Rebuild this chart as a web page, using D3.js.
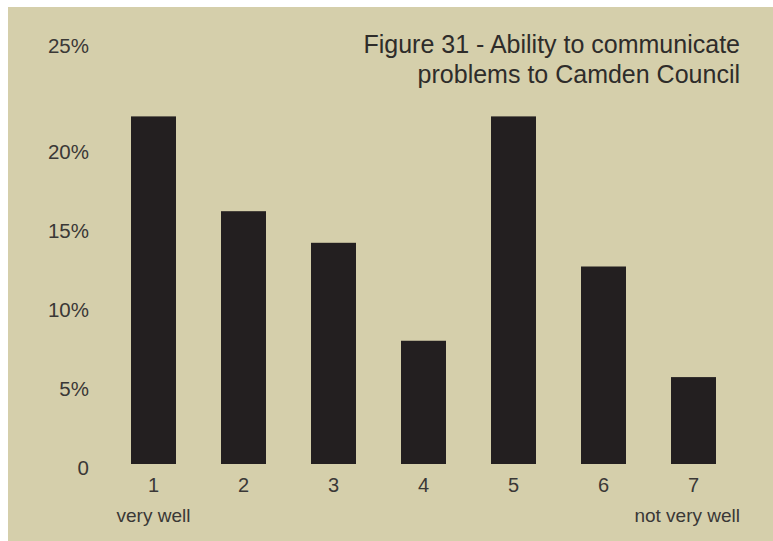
<!DOCTYPE html>
<html>
<head>
<meta charset="utf-8">
<script src="https://cdn.jsdelivr.net/npm/d3@7"></script>
<style>
  body { margin: 0; background: #fff; }
  svg { display: block; font-family: "Liberation Sans", Arial, sans-serif; }
  .tick text { fill: #3a3836; }
</style>
</head>
<body>
<svg class="svg_chart" width="773" height="541"></svg>
<script>
// data (percent of respondents)
var categories = ["1", "2", "3", "4", "5", "6", "7"];
var values = [22.0, 16.0, 14.0, 7.8, 22.0, 12.5, 5.5];
var yTicks = [0, 5, 10, 15, 20, 25];
var scaleEnds = ["very well", "not very well"];
var titleLines = ["Figure 31 - Ability to communicate", "problems to Camden Council"];

var svg = d3.select(".svg_chart");

// beige panel
svg.append("rect")
    .attr("x", 8).attr("y", 7)
    .attr("width", 765).attr("height", 534)
    .attr("fill", "#d5cfab");

var x = d3.scaleBand().domain(categories).range([108.5, 738.5])
        .paddingInner(0.5).paddingOuter(0.25),
    y = d3.scaleLinear().domain([0, 25]).range([464, 69]);

// y axis
var yAxis = svg.append("g")
    .attr("transform", "translate(89,0)")
    .call(d3.axisLeft(y).tickValues(yTicks).tickSize(0).tickPadding(0)
        .tickFormat(function(d) { return d === 0 ? "0" : d + "%"; }));
yAxis.select(".domain").remove();
yAxis.selectAll("text")
    .attr("font-size", 20.5)
    .attr("font-family", "Liberation Sans, Arial, sans-serif")
    .attr("y", function(d) { return d === 25 ? -23 : 4; });

// bars
svg.selectAll(".bar")
    .data(values)
  .enter().append("rect")
    .attr("class", "bar")
    .attr("x", function(d, i) { return x(categories[i]); })
    .attr("y", function(d) { return y(d); })
    .attr("width", x.bandwidth())
    .attr("height", function(d) { return y(0) - y(d); })
    .attr("fill", "#231f20");

// x axis
var xAxis = svg.append("g")
    .attr("transform", "translate(0," + y(0) + ")")
    .call(d3.axisBottom(x).tickSize(0).tickPadding(14));
xAxis.select(".domain").remove();
xAxis.selectAll("text")
    .attr("font-size", 20)
    .attr("font-family", "Liberation Sans, Arial, sans-serif");

// ends of the scale
svg.append("text")
    .attr("x", x(categories[0]) + x.bandwidth() / 2)
    .attr("y", 522)
    .attr("text-anchor", "middle")
    .attr("font-size", 19)
    .attr("fill", "#3a3836")
    .text(scaleEnds[0]);
svg.append("text")
    .attr("x", 740)
    .attr("y", 522)
    .attr("text-anchor", "end")
    .attr("font-size", 19)
    .attr("fill", "#3a3836")
    .text(scaleEnds[1]);

// title, top right
svg.selectAll(".title")
    .data(titleLines)
  .enter().append("text")
    .attr("class", "title")
    .attr("x", 740)
    .attr("y", function(d, i) { return 53 + i * 30; })
    .attr("text-anchor", "end")
    .attr("font-size", 25)
    .attr("fill", "#2e2c2a")
    .text(function(d) { return d; });
</script>
</body>
</html>
